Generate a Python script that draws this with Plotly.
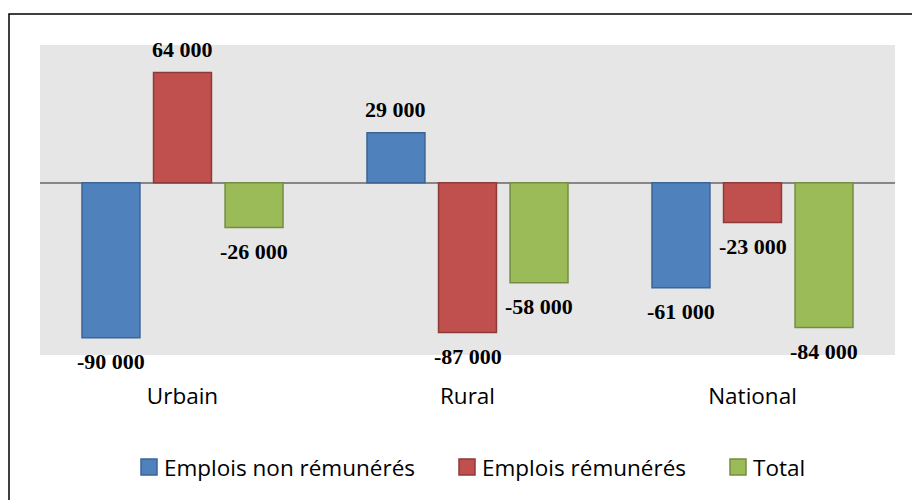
import plotly.graph_objects as go

categories = ["Urbain", "Rural", "National"]
series_names = ["Emplois non rémunérés", "Emplois rémunérés", "Total"]
non_remuneres = [-90000, 29000, -61000]
remuneres = [64000, -87000, -23000]
total = [-26000, -58000, -84000]
series_values = [non_remuneres, remuneres, total]

fills = ["#4F81BD", "#C0504D", "#9BBB59"]
edges = ["#3A6596", "#8E3A38", "#748D42"]

W, H = 912, 500
ML, MR, MT, MB = 40, 17, 45, 145
PW, PH = W - ML - MR, H - MT - MB
BARGAP = 0.247
BARGROUPGAP = 0.19


def px_x(px):
    return (px - ML) / PW


def px_y(py):
    return (H - MB - py) / PH


fig = go.Figure()
for name, vals, fc, ec in zip(series_names, series_values, fills, edges):
    fig.add_trace(go.Bar(
        x=categories, y=vals, name=name,
        marker=dict(color=fc, line=dict(color=ec, width=1.5)),
        showlegend=False, cliponaxis=False,
    ))

# data labels
slot = PW / len(categories) * (1 - BARGAP) / len(series_values)
annotations = []
for i, vals in enumerate(series_values):
    xshift = (i - (len(series_values) - 1) / 2) * slot
    for c, v in zip(categories, vals):
        annotations.append(dict(
            x=c, y=v, xref="x", yref="y",
            text=f"{v:,}".replace(",", " "),
            showarrow=False, xshift=xshift,
            yshift=23 if v > 0 else -24,
            font=dict(family="Liberation Serif", size=22, color="#000000",
                      weight="bold"),
            yanchor="middle", xanchor="center",
        ))

# custom legend
legend_sq = [141, 459, 730]
shapes = []
for (sx, name, fc, ec) in zip(legend_sq, series_names, fills, edges):
    shapes.append(dict(
        type="rect", xref="paper", yref="paper",
        x0=px_x(sx), x1=px_x(sx + 16), y0=px_y(475), y1=px_y(459),
        fillcolor=fc, line=dict(color=ec, width=1.5),
    ))
    annotations.append(dict(
        x=px_x(sx + 21), y=px_y(467), xref="paper", yref="paper",
        text=name, showarrow=False, xanchor="left", yanchor="middle",
        font=dict(family="Open Sans", size=22.5, color="#000000"),
    ))

# outer frame
shapes.append(dict(
    type="rect", xref="paper", yref="paper",
    x0=px_x(9), x1=px_x(915), y0=px_y(510), y1=px_y(14),
    line=dict(color="#000000", width=1.5), fillcolor="rgba(0,0,0,0)",
    layer="above",
))

fig.update_layout(
    width=W, height=H,
    margin=dict(l=ML, r=MR, t=MT, b=MB),
    paper_bgcolor="#FFFFFF", plot_bgcolor="#E6E6E6",
    barmode="group", bargap=BARGAP, bargroupgap=BARGROUPGAP,
    showlegend=False,
    annotations=annotations, shapes=shapes,
    xaxis=dict(
        showgrid=False, showline=False, ticks="",
        tickfont=dict(family="Open Sans", size=22.5, color="#000000"),
        ticklabelstandoff=25,
    ),
    yaxis=dict(
        range=[-100000, 80000], showgrid=False, showticklabels=False,
        zeroline=True, zerolinecolor="#878787", zerolinewidth=2,
        ticks="",
    ),
)
fig.write_html(
    "out.html",
    config={"displayModeBar": False},
    post_script="document.body.style.margin='0';document.body.style.overflow='hidden';",
)
